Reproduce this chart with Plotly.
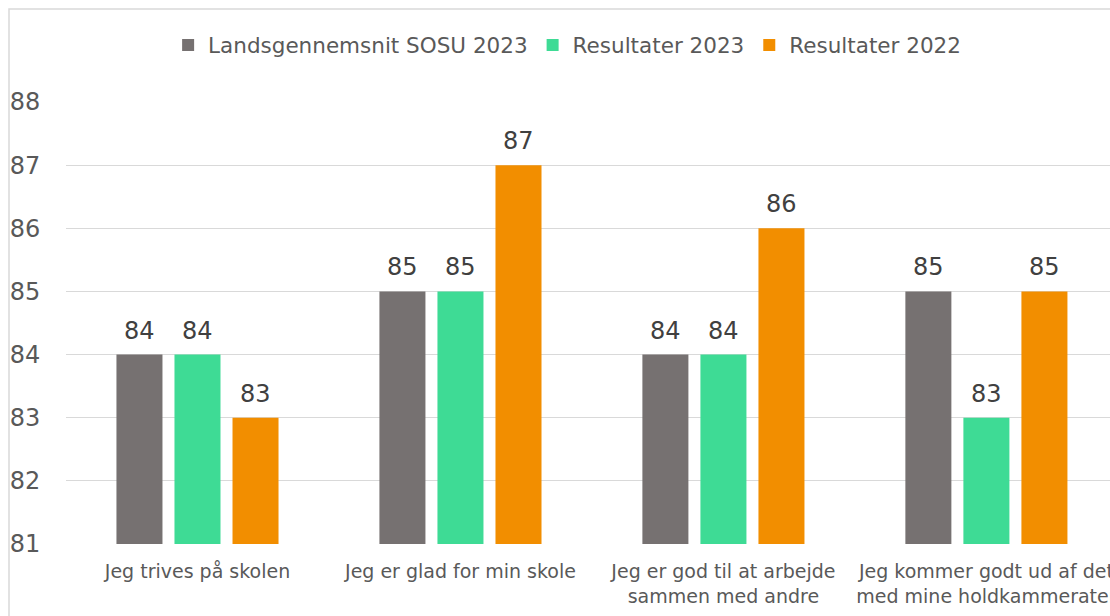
import plotly.graph_objects as go

# Data
categories = [
    "Jeg trives på skolen",
    "Jeg er glad for min skole",
    "Jeg er god til at arbejde<br>sammen med andre",
    "Jeg kommer godt ud af det<br>med mine holdkammerater",
]
series_names = ["Landsgennemsnit SOSU 2023", "Resultater 2023", "Resultater 2022"]
landsgennemsnit_2023 = [84, 85, 84, 85]
resultater_2023 = [84, 85, 84, 83]
resultater_2022 = [83, 87, 86, 85]
y_ticks = [81, 82, 83, 84, 85, 86, 87, 88]

colors = ["#767171", "#3edb95", "#f28e00"]
text_grey = "#595959"
label_grey = "#404040"
grid_grey = "#d9d9d9"

series = [landsgennemsnit_2023, resultater_2023, resultater_2022]

fig = go.Figure()
for name, vals, col in zip(series_names, series, colors):
    fig.add_trace(go.Bar(
        x=categories,
        y=vals,
        name=name,
        marker=dict(color=col, line=dict(width=0)),
        hoverinfo="skip",
    ))

# value labels above the bars (a bit more room than bar text gives)
bar_step = 58  # px between bar centres inside a group
for i, vals in enumerate(series):
    for cat, v in zip(categories, vals):
        fig.add_annotation(
            x=cat, y=v, text=str(v), showarrow=False,
            xshift=(i - 1) * bar_step, yshift=24,
            font=dict(size=24, color=label_grey),
        )

# chart border (the original chart continues past the right edge)
fig.add_shape(type="rect", xref="paper", yref="paper",
              x0=-0.0546, x1=1.2, y0=-0.5, y1=1.2104,
              line=dict(color=grid_grey, width=1.5), layer="below")

fig.update_layout(
    width=1110,
    height=616,
    margin=dict(l=66, r=0, t=102, b=72, autoexpand=False),
    barmode="group",
    bargap=0.338,
    bargroupgap=0.207,
    plot_bgcolor="white",
    paper_bgcolor="white",
    font=dict(family="DejaVu Sans, Verdana, sans-serif", color=text_grey),
    showlegend=True,
    legend=dict(
        orientation="h",
        x=0.48, xanchor="center",
        y=1.129, yanchor="middle",
        font=dict(size=21.5, color=text_grey),
        itemwidth=30,
    ),
    xaxis=dict(
        range=[-0.5, 3.47],
        automargin=False,
        showgrid=False,
        showline=False,
        ticks="outside",
        ticklen=10,
        tickcolor="rgba(0,0,0,0)",
        tickfont=dict(size=19, color=text_grey),
    ),
    yaxis=dict(
        range=[81, 88],
        tickvals=y_ticks,
        automargin=False,
        showgrid=True,
        gridcolor=grid_grey,
        gridwidth=1.3,
        zeroline=False,
        showline=False,
        ticks="outside",
        ticklen=20,
        tickcolor="rgba(0,0,0,0)",
        tickfont=dict(size=24, color=text_grey),
    ),
)

fig.write_html("out.html", config={"displayModeBar": False},
               post_script="document.body.style.margin='0px';")
